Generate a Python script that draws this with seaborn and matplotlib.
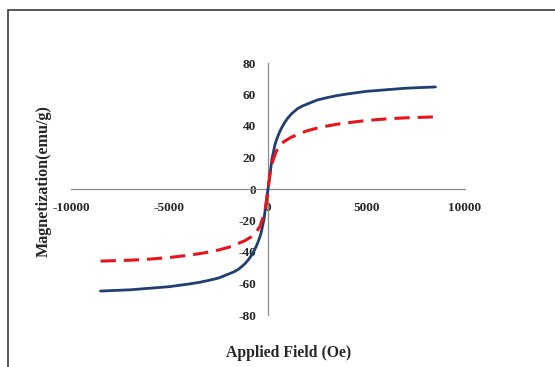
"""
Magnetization hysteresis curves (M vs H) for two samples, Excel-style axes.
"""

import pandas as pd
import matplotlib.pyplot as plt
import seaborn as sns
from matplotlib.patches import Rectangle

# applied field (Oe), same grid for both samples
field = [-8500, -7000, -6000, -5000, -4000, -3500, -3000, -2500, -2000,
         -1750, -1500, -1200, -1000, -850, -700, -600, -500, -400, -350,
         -250, -200, -150, -100, 0, 100, 150, 200, 250, 350, 400, 500, 600,
         700, 850, 1000, 1200, 1500, 1750, 2000, 2500, 3000, 3500, 4000,
         5000, 6000, 7000, 8500]

# magnetization (emu/g)
mag_a = [-64.8, -64.0, -63.0, -62.0, -60.3, -59.3, -58.0, -56.5, -54.0,
         -52.7, -51.0, -47.8, -45.0, -42.3, -39.0, -36.5, -33.5, -30.0, -28.0,
         -22.0, -19.0, -14.0, -9.0, 0.0, 9.0, 14.0, 19.0, 22.0, 28.0, 30.0,
         33.5, 36.5, 39.0, 42.3, 45.0, 47.8, 51.0, 52.7, 54.0, 56.5, 58.0,
         59.3, 60.3, 62.0, 63.0, 64.0, 64.8]
mag_b = [-45.8, -45.2, -44.5, -43.5, -42.0, -41.1, -40.0, -38.7, -37.0,
         -35.9, -34.5, -33.0, -31.5, -30.4, -29.0, -27.5, -25.5, -23.5, -21.5,
         -18.0, -16.0, -13.2, -10.0, 0.0, 10.0, 13.2, 16.0, 18.0, 21.5, 23.5,
         25.5, 27.5, 29.0, 30.4, 31.5, 33.0, 34.5, 35.9, 37.0, 38.7, 40.0,
         41.1, 42.0, 43.5, 44.5, 45.2, 45.8]

x_ticks = [-10000, -5000, 0, 5000, 10000]
y_ticks = [-80, -60, -40, -20, 0, 20, 40, 60, 80]

sns.set_style("white")
plt.rcParams["font.family"] = ["Liberation Serif", "DejaVu Serif"]
plt.rcParams["font.weight"] = "bold"

df = pd.DataFrame({
    "field": field * 2,
    "mag": mag_a + mag_b,
    "sample": ["A"] * len(field) + ["B"] * len(field),
})

fig = plt.figure(figsize=(5.55, 3.67), dpi=100)
ax = fig.add_axes([71 / 555, 1 - 315 / 367, 394 / 555, 252 / 367])

sns.lineplot(data=df[df["sample"] == "A"], x="field", y="mag", sort=False,
             color="#1F3F73", linewidth=2.0, ax=ax, zorder=3)
sns.lineplot(data=df[df["sample"] == "B"], x="field", y="mag", sort=False,
             color="#E8141B", linewidth=2.2, ax=ax, zorder=3)
ax.lines[-1].set_dashes((5, 2.6))
for line in ax.lines:
    line.set_solid_joinstyle("round")
    line.set_dash_joinstyle("round")

ax.set_xlim(-10000, 10000)
ax.set_ylim(-80, 80)
ax.set_xticks(x_ticks)
ax.set_yticks(y_ticks)
ax.set_xticklabels([str(v) for v in x_ticks])
ax.set_yticklabels([str(v) for v in y_ticks])

for side in ["top", "right"]:
    ax.spines[side].set_visible(False)
for side in ["left", "bottom"]:
    ax.spines[side].set_position(("data", 0))
    ax.spines[side].set_color("#8C8C8C")
    ax.spines[side].set_linewidth(0.9)

ax.set_axisbelow(True)
ax.tick_params(axis="x", direction="in", length=4, width=0.9,
               color="#8C8C8C", pad=9.5, labelsize=9.5)
ax.tick_params(axis="y", direction="in", length=4, width=0.9,
               color="#8C8C8C", pad=8.5, labelsize=9.5)
ax.set_xlabel("")
ax.set_ylabel("")

fig.text(289 / 555, 1 - 353 / 367, "Applied Field (Oe)", ha="center",
         va="center", fontsize=11.3, fontweight="bold")
fig.text(44 / 555, 1 - 181 / 367, "Magnetization(emu/g)", ha="center",
         va="center", rotation=90, fontsize=11.6, fontweight="bold")

# chart area border, running off the right and bottom edges
fig.patches.append(Rectangle((8 / 555, -0.2), 1.2, 1.2 - 10 / 367,
                             transform=fig.transFigure, fill=False,
                             edgecolor="#3A3A3A", linewidth=1.2))

fig.savefig("out.png", dpi=100)
plt.close(fig)
